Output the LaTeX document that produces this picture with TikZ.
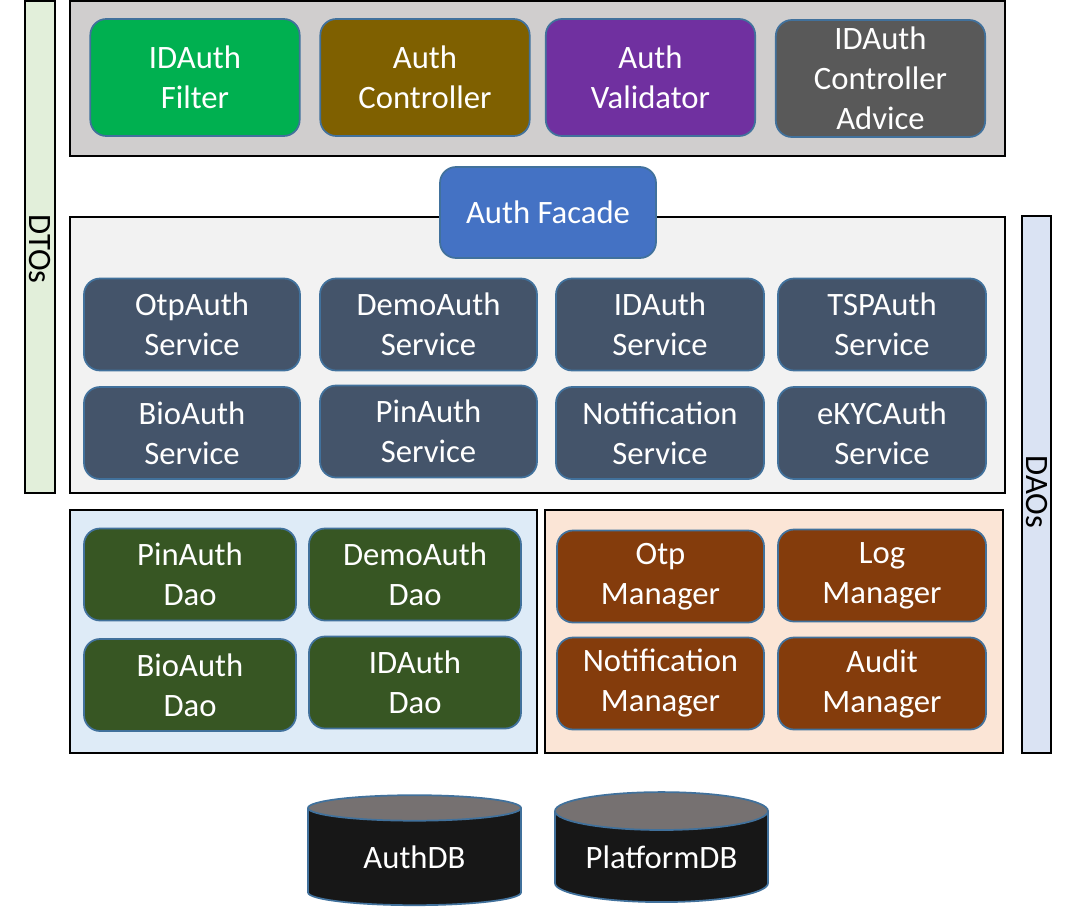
\documentclass[tikz,border=0pt]{standalone}
\usepackage{fontspec}
\setmainfont{Carlito}
\usetikzlibrary{shapes.geometric}
\tikzset{every node/.style={font=\fontsize{24.5}{30}\selectfont}}
\definecolor{bordercol}{HTML}{41719C}
\definecolor{topcol}{HTML}{D0CECE}
\definecolor{servbgcol}{HTML}{F2F2F2}
\definecolor{daobgcol}{HTML}{DEEBF7}
\definecolor{mgrbgcol}{HTML}{FBE5D6}
\definecolor{dtocol}{HTML}{E2EFDA}
\definecolor{daobarcol}{HTML}{DAE3F3}
\definecolor{filtercol}{HTML}{00B050}
\definecolor{ctrlcol}{HTML}{7F6000}
\definecolor{validcol}{HTML}{7030A0}
\definecolor{advicecol}{HTML}{595959}
\definecolor{facadecol}{HTML}{4472C4}
\definecolor{servcol}{HTML}{44546A}
\definecolor{daocol}{HTML}{375623}
\definecolor{mgrcol}{HTML}{843C0C}
\definecolor{dbbodycol}{HTML}{171717}
\definecolor{dbtopcol}{HTML}{767171}
\tikzset{
  layer/.style={draw=black, line width=1.6pt},
  comp/.style={draw=bordercol, line width=1.3pt, rounded corners=12pt,
    text=white, align=center, inner sep=0pt,
    minimum width=#1, minimum height=69pt},
  comp/.default=157pt,
  dbcyl/.style={cylinder, shape border rotate=90, draw=bordercol,
    line width=1.3pt, aspect=0.25, cylinder uses custom fill,
    cylinder body fill=dbbodycol, cylinder end fill=dbtopcol,
    text=white, minimum width=159.75pt, minimum height=82.5pt, inner sep=0pt},
}

\begin{document}
\begin{tikzpicture}[x=0.75pt, y=-0.75pt]
  \useasboundingbox (0,0) rectangle (1068,907);

  % Side bars.
  \draw[layer, fill=dtocol] (25,1) rectangle (55,493);
  \node[rotate=-90] (dtos) at (40,249) {DTOs};
  \draw[layer, fill=daobarcol] (1022,216) rectangle (1051,753);
  \node[rotate=-90] (daos) at (1036.5,492) {DAOs};

  % Controller layer.
  \draw[layer, fill=topcol] (70,1) rectangle (1005,156);
  \node[comp, fill=filtercol, minimum height=87.75pt] (filter) at (195,77.5) {IDAuth\\Filter};
  \node[comp, fill=ctrlcol, minimum height=87.75pt] (ctrl) at (425,77.5) {Auth\\Controller};
  \node[comp, fill=validcol, minimum height=87.75pt] (valid) at (650.5,77.5) {Auth\\Validator};
  \node[comp, fill=advicecol, minimum height=87.75pt] (advice) at (880.5,78.5) {IDAuth\\Controller\\Advice};

  % Service layer.
  \draw[layer, fill=servbgcol] (70,217) rectangle (1005,493);
  \node[comp=162pt, fill=facadecol, minimum height=68.25pt] (facade) at (548,212.5) {Auth Facade};

  \node[comp=162pt, fill=servcol] (otpsvc) at (192,324.5) {OtpAuth\\Service};
  \node[comp=162.75pt, fill=servcol] (demosvc) at (428.5,324.5) {DemoAuth\\Service};
  \node[comp=156pt, fill=servcol] (idsvc) at (660,324.5) {IDAuth\\Service};
  \node[comp=156pt, fill=servcol] (tspsvc) at (882,324.5) {TSPAuth\\Service};
  \node[comp=162pt, fill=servcol] (biosvc) at (192,433) {BioAuth\\Service};
  \node[comp=162.75pt, fill=servcol] (pinsvc) at (428.5,431.5) {PinAuth\\Service};
  \node[comp=156pt, fill=servcol] (notifsvc) at (660,433) {Notification\\Service};
  \node[comp=156pt, fill=servcol] (ekycsvc) at (882,433) {eKYCAuth\\Service};

  % DAO layer.
  \draw[layer, fill=daobgcol] (70,510) rectangle (537,753);
  \node[comp=159pt, fill=daocol] (pindao) at (190,574.5) {PinAuth\\Dao};
  \node[comp=159pt, fill=daocol] (demodao) at (415,574.5) {DemoAuth\\Dao};
  \node[comp=159pt, fill=daocol] (biodao) at (190,685) {BioAuth\\Dao};
  \node[comp=159pt, fill=daocol] (iddao) at (415,682.5) {IDAuth\\Dao};

  % Manager layer.
  \draw[layer, fill=mgrbgcol] (545,510) rectangle (1003,753);
  \node[comp=155.25pt, fill=mgrcol] (otpmgr) at (660.5,576.5) {Otp\\Manager};
  \node[comp=156pt, fill=mgrcol] (logmgr) at (882,575.5) {Log\\Manager};
  \node[comp=155.25pt, fill=mgrcol] (notifmgr) at (660.5,683.5) {Notification\\Manager};
  \node[comp=156pt, fill=mgrcol] (auditmgr) at (882,683.5) {Audit\\Manager};

  % Databases.
  \node[dbcyl] (authdb) at (414.5,857) {AuthDB};
  \node[dbcyl] (platdb) at (661.5,857) {PlatformDB};

\end{tikzpicture}
\end{document}
